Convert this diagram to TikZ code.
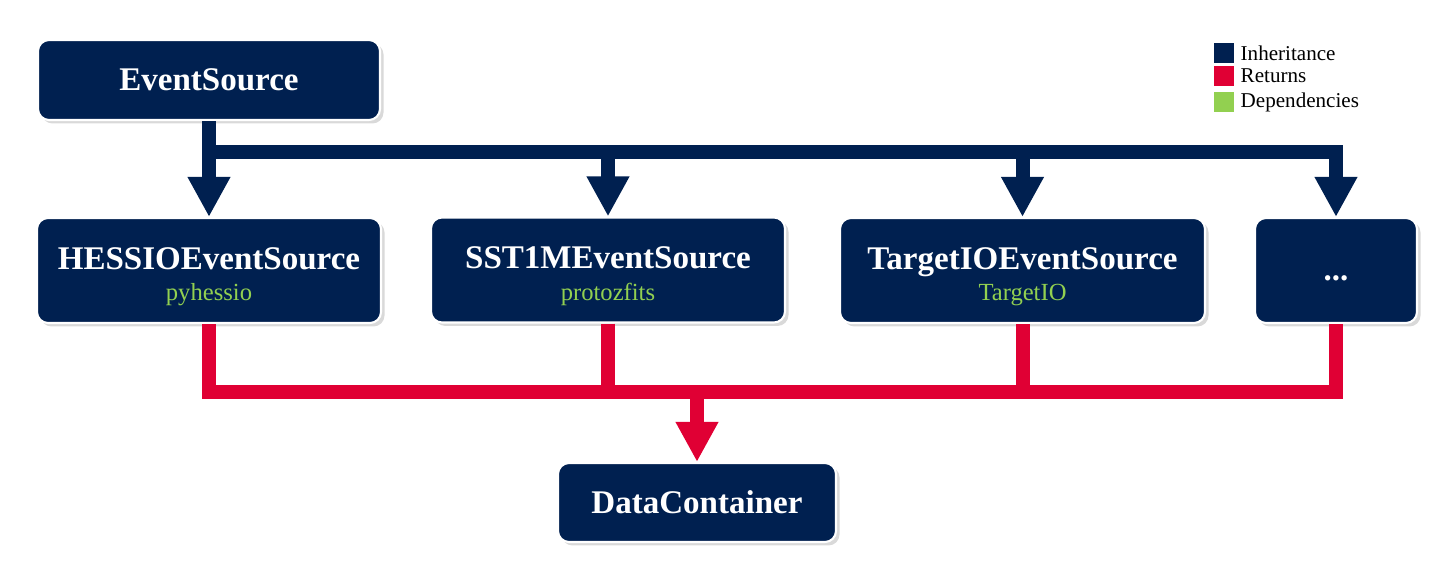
\documentclass[tikz,border=0pt]{standalone}
\usepackage{fontspec}
\setmainfont{Liberation Serif}
\usetikzlibrary{arrows.meta,shadows,calc}

\definecolor{navy}{HTML}{002050}
\definecolor{retred}{HTML}{E00034}
\definecolor{depgreen}{HTML}{92D050}

\newcommand{\deplabel}[1]{{\fontsize{14}{16}\selectfont\mdseries\color{depgreen}#1}}
\newcommand{\titlestrut}{\rule{0pt}{19.6pt}}

\tikzset{
  classes/.style={
    classbox/.style={
        rectangle,
        rounded corners=0.22cm,
        fill=navy,
        draw=white,
        line width=1.2pt,
        text=white,
        align=center,
        font=\fontsize{18.8}{26}\selectfont\bfseries,
        drop shadow={shadow xshift=0.07cm, shadow yshift=-0.07cm, opacity=0.3},
    },
    inherit/.style={
        draw=navy,
        line width=0.28cm,
        -{Triangle[width=0.8cm,length=0.8cm]},
    },
    returns/.style={
        draw=retred,
        line width=0.28cm,
    },
    legendkey/.style={
        rectangle,
        minimum size=0.4cm,
        inner sep=0pt,
    },
    legendtext/.style={
        anchor=west,
        inner sep=0pt,
        font=\fontsize{12}{14}\selectfont,
    }
  }
}

\begin{document}
\begin{tikzpicture}[classes]
        \useasboundingbox (0,0) rectangle (28.94,11.44);

        % classes
        \node[classbox, minimum width=6.84cm, minimum height=1.6cm] (es) at (4.18,9.84) {EventSource};
        \node[classbox, minimum width=6.88cm, minimum height=2.1cm] (hessio) at (4.18,6.03)
            {\titlestrut HESSIOEventSource\\[-0.29cm]\deplabel{pyhessio}};
        \node[classbox, minimum width=7.08cm, minimum height=2.1cm] (sst) at (12.16,6.04)
            {\titlestrut SST1MEventSource\\[-0.29cm]\deplabel{protozfits}};
        \node[classbox, minimum width=7.3cm, minimum height=2.1cm] (target) at (20.45,6.03)
            {\titlestrut TargetIOEventSource\\[-0.29cm]\deplabel{TargetIO}};
        \node[classbox, minimum width=3.24cm, minimum height=2.1cm] (more) at (26.72,6.03)
            {\raisebox{-0.2cm}[0pt][0pt]{...}};
        \node[classbox, minimum width=5.56cm, minimum height=1.58cm] (dc) at (13.94,1.39) {DataContainer};

        % inheritance
        \coordinate (hub) at (4.18,8.4);
        \draw[inherit] (es.south) -- (hessio.north);
        \draw[inherit] (hub) -| (sst.north);
        \draw[inherit] (hub) -| (target.north);
        \draw[inherit] (hub) -| (more.north);

        % returns
        \coordinate (ret) at (13.94,3.6);
        \draw[returns] (hessio.south) |- (ret);
        \draw[returns] (sst.south) |- (ret);
        \draw[returns] (target.south) |- (ret);
        \draw[returns] (more.south) |- (ret);
        \draw[returns, -{Triangle[width=0.8cm,length=0.8cm]}] (ret) -- (dc.north);

        % legend
        \node[legendkey, fill=navy] (kinh) at (24.48,10.38) {};
        \node[legendkey, fill=retred] (kret) at (24.48,9.92) {};
        \node[legendkey, fill=depgreen] (kdep) at (24.48,9.40) {};
        \node[legendtext] at ([xshift=0.12cm]kinh.east) {Inheritance};
        \node[legendtext] at ([xshift=0.12cm]kret.east) {Returns};
        \node[legendtext] at ([xshift=0.12cm]kdep.east) {Dependencies};
      \end{tikzpicture}
\end{document}
